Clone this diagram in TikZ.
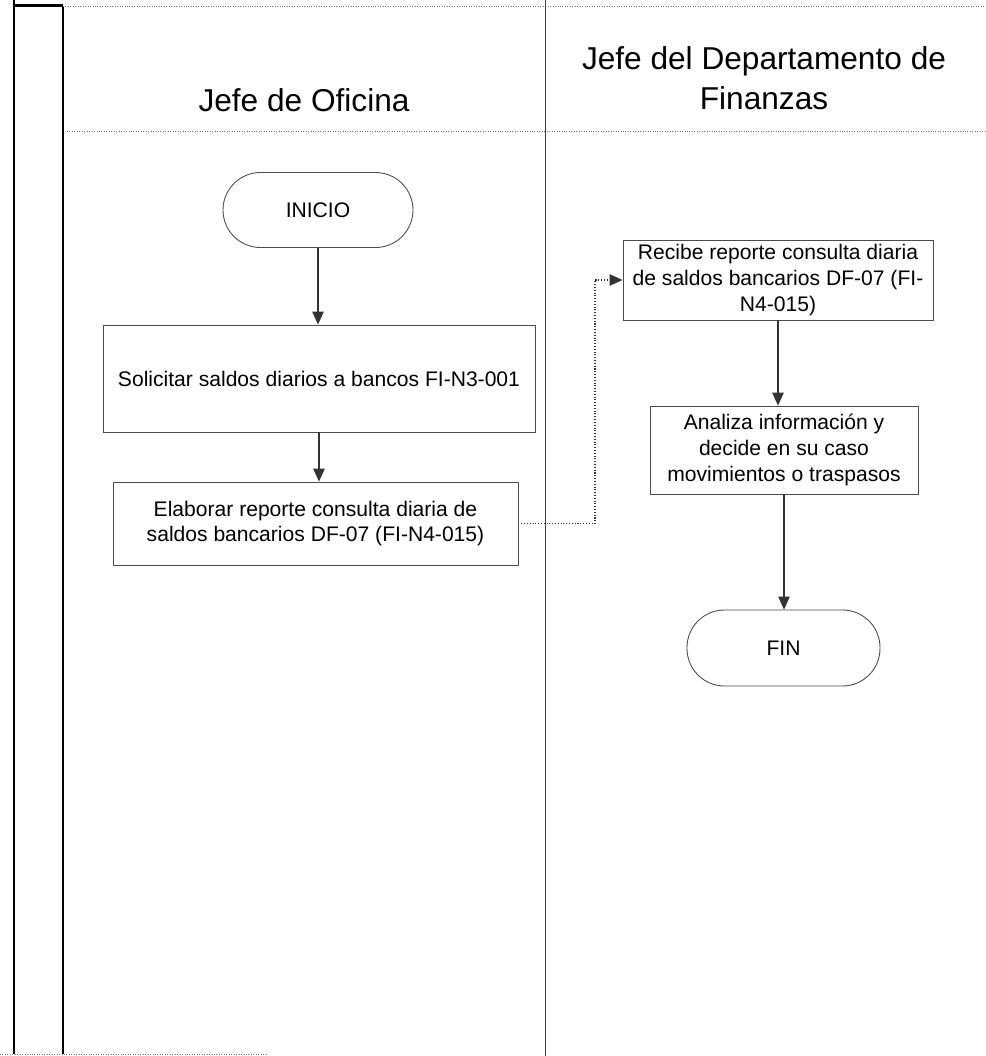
\documentclass[tikz,border=0pt]{standalone}
\usepackage{fontspec}
\setmainfont{Liberation Sans}
\usetikzlibrary{positioning}
\usetikzlibrary{shapes,arrows.meta,calc}
\tikzset{
    %Define standard arrow tip
    >={Triangle[length=2.6mm,width=2.3mm]},
    % Define flow arrow style
    flecha/.style={
           ->,
           color=black!80,
           line width=0.6pt,}
}
\newcommand{\cajafont}{\fontsize{12}{14.6}\selectfont}

\begin{document}
\begin{tikzpicture}
\tikzstyle{procbox}=[draw=black!70, fill=white, rectangle, line width=0.5pt,
    inner sep=2pt, font=\cajafont, align=center]
%
\tikzstyle{termbox}=[draw=black!70, fill=white, rectangle, line width=0.5pt,
    rounded corners=7.5mm, minimum width=3.8cm, minimum height=1.5cm, font=\cajafont, align=center]
%
\tikzstyle{carril}=[draw=black!55, line width=0.4pt, densely dotted]
%
\tikzstyle{titulo}=[align=center, font=\fontsize{18}{23}\selectfont]

\useasboundingbox (0cm,0cm) rectangle (19.72cm,-21.12cm);

% swimlane frame
\draw[line width=1.2pt] (0.28cm,0.2cm) -- (0.28cm,-21.08cm);
\draw[line width=1.2pt] (1.26cm,-0.11cm) -- (1.26cm,-21.08cm);
\draw[line width=1.2pt] (0.28cm,-0.11cm) -- (1.26cm,-0.11cm);
\draw[carril] (1.26cm,-0.12cm) -- (19.72cm,-0.12cm);
\draw[carril] (1.34cm,-2.62cm) -- (19.72cm,-2.62cm);
\draw[carril] (0cm,-21.08cm) -- (5.34cm,-21.08cm);
\draw[black!75, line width=0.5pt] (10.9cm,0cm) -- (10.9cm,-21.12cm);

\node[titulo] (oficina) at (6.08cm,-2.0cm) {Jefe de Oficina};
\node[titulo] (finanzas) at (15.28cm,-1.56cm) {Jefe del Departamento de\\ Finanzas};

\node[termbox] (inicio) at (6.36cm,-4.2cm) {INICIO};
\node[procbox, minimum width=8.64cm, minimum height=2.14cm] (solicitar) at (6.38cm,-7.57cm)
    {Solicitar saldos diarios a bancos FI-N3-001};
\node[procbox, minimum width=8.1cm, minimum height=1.66cm] (elaborar) at (6.31cm,-10.47cm)
    {Elaborar reporte consulta diaria de\\ saldos bancarios DF-07 (FI-N4-015)};

\node[procbox, minimum width=6.2cm, minimum height=1.6cm] (recibe) at (15.56cm,-5.6cm)
    {Recibe reporte consulta diaria\\ de saldos bancarios DF-07 (FI-\\ N4-015)};
\node[procbox, minimum width=5.36cm, minimum height=1.76cm] (analiza) at (15.68cm,-9.0cm)
    {Analiza información y\\ decide en su caso\\ movimientos o traspasos};
\node[termbox, minimum width=3.86cm, minimum height=1.52cm] (fin) at (15.67cm,-12.96cm) {FIN};

\path[flecha] (inicio.south) edge (inicio.south |- solicitar.north);
\path[flecha] (solicitar.south) edge (solicitar.south |- elaborar.north);
\path[flecha] (recibe.south) edge (recibe.south |- analiza.north);
\path[flecha] (analiza.south) edge (analiza.south |- fin.north);

\coordinate (codo) at (11.9cm,-10.47cm);
\draw[flecha, densely dotted] (elaborar.east) -- (codo) |- (recibe.west);

\end{tikzpicture}
\end{document}
